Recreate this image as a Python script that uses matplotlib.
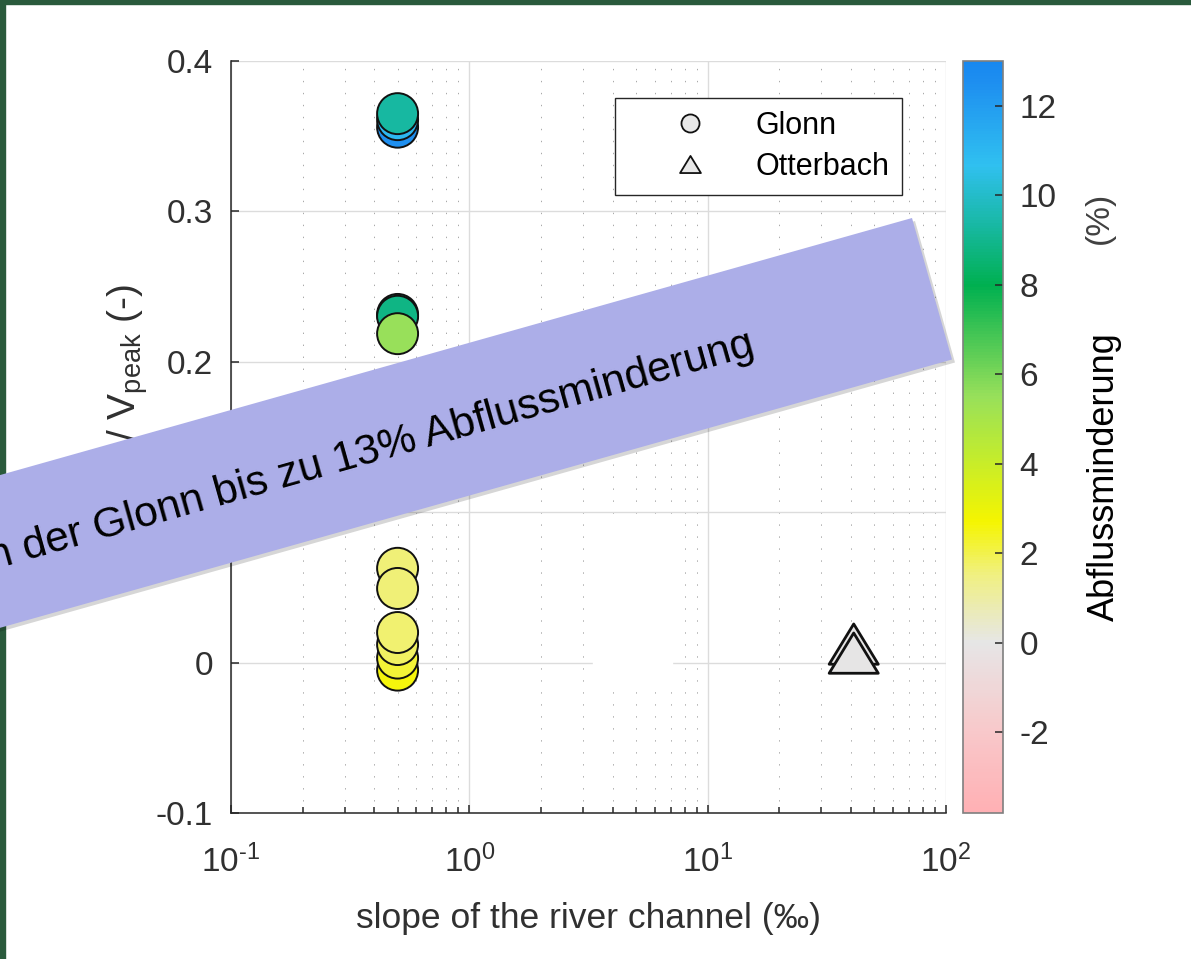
import numpy as np
import matplotlib.pyplot as plt
from matplotlib.colors import LinearSegmentedColormap
from matplotlib.lines import Line2D
from matplotlib.patches import Polygon, Rectangle
from matplotlib.path import Path
from matplotlib.ticker import NullFormatter, FixedLocator, FixedFormatter

plt.rcParams['font.family'] = ['Liberation Sans', 'DejaVu Sans']
plt.rcParams['mathtext.fontset'] = 'custom'
plt.rcParams['mathtext.rm'] = 'Liberation Sans'
plt.rcParams['mathtext.it'] = 'Liberation Sans:italic'
plt.rcParams['axes.unicode_minus'] = False

# Glonn scenarios (all at the same channel slope), listed in drawing order
glonn_slope = [0.5, 0.5, 0.5, 0.5, 0.5, 0.5, 0.5, 0.5, 0.5, 0.5, 0.5, 0.5]
glonn_ratio = [0.356, 0.361, 0.365, 0.2315, 0.2303, 0.2187,
               -0.005, 0.003, 0.012, 0.0627, 0.0493, 0.020]
glonn_reduction = [12.5, 11.0, 9.3, 8.6, 8.8, 5.5,
                   2.6, 2.2, 1.8, 1.6, 1.6, 1.7]

# Otterbach scenarios
otter_slope = [41, 41]
otter_ratio = [0.0123, 0.0063]
otter_reduction = [0.0, 0.0]

xtick_values = [0.1, 1, 10, 100]
xtick_labels = ['10$^{\\text{-1}}$', '10$^{\\text{0}}$', '10$^{\\text{1}}$', '10$^{\\text{2}}$']
ytick_values = [-0.1, 0, 0.1, 0.2, 0.3, 0.4]
ytick_labels = ['-0.1', '0', '0.1', '0.2', '0.3', '0.4']
cbar_ticks = [-2, 0, 2, 4, 6, 8, 10, 12]
cbar_min, cbar_max = -3.8, 13

# colour scale: red-ish for negative, grey at zero, yellow -> green -> blue
cmap_values = [-3.8, -2, 0, 1.5, 2.7, 4.3, 5.5, 8, 9.3, 10.7, 12.5, 13]
cmap_colors = ['#FFB0B4', '#F8C8CA', '#E6E6E6', '#F0F082', '#F5F500', '#BEEB32',
               '#98E05A', '#00B050', '#17B8A0', '#30C0F0', '#1E90F0', '#1888F0']
cmap = LinearSegmentedColormap.from_list(
    'reduction',
    [((v - cbar_min) / (cbar_max - cbar_min), c) for v, c in zip(cmap_values, cmap_colors)],
    N=256)

W, H = 1191, 959


def box(x0, y0, x1, y1):
    # pixel box (from top-left) -> figure fraction rect
    return [x0 / W, 1 - y1 / H, (x1 - x0) / W, (y1 - y0) / H]


def fpt(x, y):
    return (x / W, 1 - y / H)


fig = plt.figure(figsize=(W / 100, H / 100), dpi=100)
ax = fig.add_axes(box(231, 61, 946, 813))
cax = fig.add_axes(box(963, 61, 1003, 813))

# wide triangle marker
tri = Path([(0, 0.82), (-1, -0.82), (1, -0.82), (0, 0.82)],
           [Path.MOVETO, Path.LINETO, Path.LINETO, Path.CLOSEPOLY])

sc = ax.scatter(glonn_slope, glonn_ratio, s=870, c=glonn_reduction, cmap=cmap,
                vmin=cbar_min, vmax=cbar_max, marker='o',
                edgecolors='#111111', linewidths=1.4, zorder=3)
ax.scatter(otter_slope, otter_ratio, s=1250, c=otter_reduction, cmap=cmap,
           vmin=cbar_min, vmax=cbar_max, marker=tri,
           edgecolors='#111111', linewidths=2.0, zorder=3)

ax.set_xscale('log')
ax.set_xlim(0.1, 100)
ax.set_ylim(-0.1, 0.4)
ax.xaxis.set_major_locator(FixedLocator(xtick_values))
ax.xaxis.set_major_formatter(FixedFormatter(xtick_labels))
ax.xaxis.set_minor_formatter(NullFormatter())
ax.set_yticks(ytick_values)
ax.set_yticklabels(ytick_labels)

ax.set_axisbelow(True)
ax.grid(True, which='major', color='#DCDCDC', lw=1.0)
ax.xaxis.grid(True, which='minor', color='#A8A8A8', lw=0.7, ls=(0, (1.43, 10.9)))

for side in ['top', 'right']:
    ax.spines[side].set_visible(False)
for side in ['left', 'bottom']:
    ax.spines[side].set_color('#262626')
    ax.spines[side].set_linewidth(1.1)

ax.tick_params(which='both', direction='in', color='#262626', labelcolor='#303030',
               labelsize=24, width=1.1)
ax.tick_params(which='major', length=6)
ax.tick_params(which='minor', length=4)
ax.tick_params(axis='y', pad=13)
ax.tick_params(axis='x', pad=23)

ax.set_xlabel('slope of the river channel (‰)', fontsize=25.5, color='#303030')
ax.xaxis.set_label_coords(0.5, -0.118)

fig.text(*fpt(136, 441), '/ V$_{\\rm peak}$ (-)', rotation=90, rotation_mode='anchor',
         ha='left', va='baseline', fontsize=28, color='#303030')

# legend with neutral grey markers
handles = [Line2D([], [], ls='none', marker='o', ms=13, mfc='#E8E8E8',
                  mec='#111111', mew=1.3),
           Line2D([], [], ls='none', marker=tri, ms=15, mfc='#E8E8E8',
                  mec='#111111', mew=1.3)]
leg = ax.legend(handles, ['Glonn', 'Otterbach'], loc='upper left',
                bbox_to_anchor=(0.537, 0.951), fontsize=22, frameon=True,
                fancybox=False, edgecolor='#262626', framealpha=1,
                borderpad=0.42, handlelength=4.05, handletextpad=0.125,
                labelspacing=0.36, borderaxespad=0)
leg.get_frame().set_linewidth(1.0)

# colour bar
cb = fig.colorbar(sc, cax=cax, ticks=cbar_ticks)
cb.ax.tick_params(direction='in', length=6, width=1.1, color='#262626',
                  labelcolor='#303030', labelsize=24, pad=12)
cb.outline.set_edgecolor('#7F7F7F')
cb.outline.set_linewidth(1.2)
fig.text(*fpt(1104, 477), 'Abflussminderung', rotation=90, ha='center', va='center',
         fontsize=26, color='black')
fig.text(*fpt(1099, 218), '(%)', rotation=90, ha='center', va='center',
         fontsize=24, color='#404040')

# dark green frame on the left and top edge
fig.patches.append(Rectangle((0, 0), 5 / W, 1, transform=fig.transFigure,
                             color='#2A5A3C', zorder=0.5))
fig.patches.append(Rectangle((0, 1 - 4 / H), 1, 4 / H, transform=fig.transFigure,
                             color='#2A5A3C', zorder=0.5))

# blank patch over part of the plot area
x0, y0 = fpt(593, 690)
fig.patches.append(Rectangle((x0, y0), 79 / W, 170 / H, transform=fig.transFigure,
                             color='white', zorder=4))

# slanted banner with shadow
corners = [(912, 218), (952, 359.5), (-107, 658), (-147, 516.5)]
shadow = [fpt(x + 3, y + 3) for x, y in corners]
fig.patches.append(Polygon(shadow, closed=True, transform=fig.transFigure,
                           facecolor=(0, 0, 0, 0.16), edgecolor='none', zorder=4.9))
fig.patches.append(Polygon([fpt(x, y) for x, y in corners], closed=True,
                           transform=fig.transFigure, facecolor='#ACAEE8',
                           edgecolor='none', zorder=5))
fig.text(*fpt(753, 344), 'an der Glonn bis zu 13% Abflussminderung', rotation=15.75,
         rotation_mode='anchor', ha='right', va='center', fontsize=30.7,
         color='black', zorder=6)

plt.savefig('out.png', dpi=100)
